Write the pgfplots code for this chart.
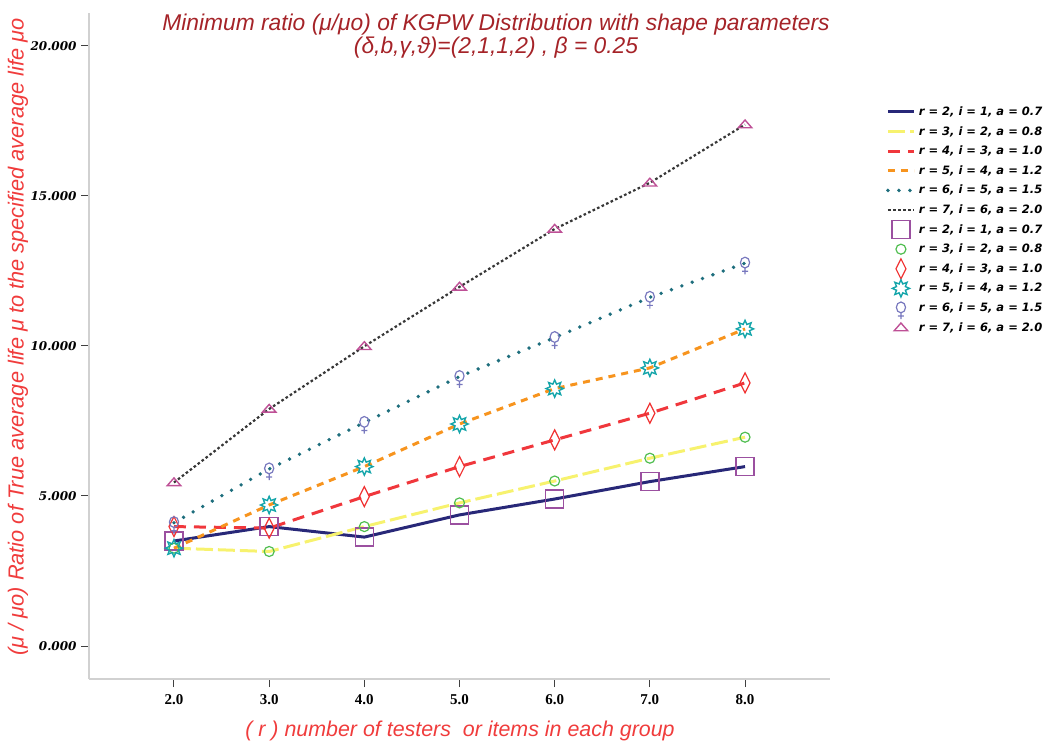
\documentclass[border=0pt]{standalone}
\usepackage{pgfplots}
\usepackage{pgfplotstable}
\pgfplotsset{compat=1.18}
\usepackage{fontspec}
\setmainfont{Liberation Sans}
\newfontfamily\sansf{Liberation Sans}
\newfontfamily\legf{DejaVu Sans}
\newfontfamily\tickx{Liberation Serif}
\newfontfamily\ticky{DejaVu Serif}

\definecolor{cnavy}{RGB}{40,40,120}
\definecolor{cyel}{RGB}{247,242,110}
\definecolor{cred}{RGB}{240,55,60}
\definecolor{corange}{RGB}{247,148,30}
\definecolor{cteal}{RGB}{30,110,125}
\definecolor{cblack}{RGB}{55,55,55}
\definecolor{msq}{RGB}{155,80,160}
\definecolor{mcirc}{RGB}{80,190,80}
\definecolor{mdia}{RGB}{240,50,50}
\definecolor{mstar}{RGB}{20,165,170}
\definecolor{mven}{RGB}{120,120,190}
\definecolor{mtri}{RGB}{190,80,150}
\definecolor{ctitle}{RGB}{165,35,40}
\definecolor{clabel}{RGB}{240,60,60}

\pgfdeclareplotmark{mysquare}{%
  \pgfpathrectangle{\pgfpoint{-4.5pt}{-4.5pt}}{\pgfpoint{9pt}{9pt}}\pgfusepathqstroke}
\pgfdeclareplotmark{mycirc}{%
  \pgfpathcircle{\pgfpoint{0pt}{0pt}}{2.5pt}\pgfusepathqstroke}
\pgfdeclareplotmark{mydia}{%
  \pgfpathmoveto{\pgfpoint{0pt}{5pt}}\pgfpathlineto{\pgfpoint{2.5pt}{0pt}}%
  \pgfpathlineto{\pgfpoint{0pt}{-5pt}}\pgfpathlineto{\pgfpoint{-2.5pt}{0pt}}%
  \pgfpathclose\pgfusepathqstroke}
\pgfdeclareplotmark{mytri}{%
  \pgfpathmoveto{\pgfpoint{-3.4pt}{-1.6pt}}\pgfpathlineto{\pgfpoint{3.4pt}{-1.6pt}}%
  \pgfpathlineto{\pgfpoint{0pt}{2.3pt}}\pgfpathclose\pgfusepathqstroke}
\pgfdeclareplotmark{myven}{%
  \pgfpathellipse{\pgfpoint{0pt}{0.3pt}}{\pgfpoint{2.3pt}{0pt}}{\pgfpoint{0pt}{2.7pt}}%
  \pgfpathmoveto{\pgfpoint{0pt}{-2.4pt}}\pgfpathlineto{\pgfpoint{0pt}{-5.6pt}}%
  \pgfpathmoveto{\pgfpoint{-1.5pt}{-4pt}}\pgfpathlineto{\pgfpoint{1.5pt}{-4pt}}%
  \pgfusepathqstroke}
\pgfdeclareplotmark{mystar}{%
  \pgfpathmoveto{\pgfpointpolar{90}{4.3pt}}%
  \pgfpathlineto{\pgfpointpolar{112.5}{2.4pt}}\pgfpathlineto{\pgfpointpolar{135}{4.3pt}}%
  \pgfpathlineto{\pgfpointpolar{157.5}{2.4pt}}\pgfpathlineto{\pgfpointpolar{180}{4.3pt}}%
  \pgfpathlineto{\pgfpointpolar{202.5}{2.4pt}}\pgfpathlineto{\pgfpointpolar{225}{4.3pt}}%
  \pgfpathlineto{\pgfpointpolar{247.5}{2.4pt}}\pgfpathlineto{\pgfpointpolar{270}{4.3pt}}%
  \pgfpathlineto{\pgfpointpolar{292.5}{2.4pt}}\pgfpathlineto{\pgfpointpolar{315}{4.3pt}}%
  \pgfpathlineto{\pgfpointpolar{337.5}{2.4pt}}\pgfpathlineto{\pgfpointpolar{0}{4.3pt}}%
  \pgfpathlineto{\pgfpointpolar{22.5}{2.4pt}}\pgfpathlineto{\pgfpointpolar{45}{4.3pt}}%
  \pgfpathlineto{\pgfpointpolar{67.5}{2.4pt}}\pgfpathclose\pgfusepathqstroke}

\pgfplotstableread{
x  s1   s2   s3   s4    s5    s6
2  3.50 3.26 3.98 3.26  4.11  5.45
3  3.98 3.15 3.93 4.70  5.90  7.90
4  3.63 3.98 4.98 5.98  7.45  9.99
5  4.37 4.77 5.98 7.40  8.98  11.97
6  4.90 5.50 6.87 8.58  10.28 13.90
7  5.48 6.26 7.76 9.27  11.62 15.44
8  5.98 6.96 8.77 10.57 12.76 17.38
}\data

\pgfplotsset{
  lineleg/.style={legend image code/.code={\draw[##1] (0pt,0pt) -- (13pt,0pt);
    \pgfpathrectangle{\pgfpoint{0pt}{-2.5pt}}{\pgfpoint{13pt}{5pt}}\pgfusepath{use as bounding box}}},
  markleg/.style={legend image code/.code={\draw[##1,overlay] plot coordinates {(6.5pt,0pt)};
    \pgfpathrectangle{\pgfpoint{0pt}{-2.5pt}}{\pgfpoint{13pt}{5pt}}\pgfusepath{use as bounding box}}},
}

\begin{document}
\begin{tikzpicture}
\useasboundingbox (0,0) rectangle (521.5pt,372pt);
\begin{axis}[
  at={(44.5pt,32.5pt)}, anchor=south west,
  scale only axis, width=370.5pt, height=333pt,
  xmin=1.107, xmax=8.893, ymin=-1.1, ymax=21.1,
  axis x line*=bottom, axis y line*=left,
  axis line style={draw=black!18, line width=0.75pt},
  tick style={draw=black!75, line width=0.5pt},
  tick align=outside, major tick length=4pt,
  xtick={2,3,4,5,6,7,8},
  xticklabels={2.0,3.0,4.0,5.0,6.0,7.0,8.0},
  ytick={0,5,10,15,20},
  yticklabels={0.000,5.000,10.000,15.000,20.000},
  x tick label style={font=\tickx\bfseries\fontsize{7.5}{8}\selectfont},
  y tick label style={font=\ticky\bfseries\itshape\fontsize{6}{7}\selectfont, xshift=1.3pt},
  legend style={draw=none, fill=none, inner sep=0pt, outer sep=0pt,
    at={(rel axis cs:1.0756,0.8596)}, anchor=north west,
    font=\legf\bfseries\itshape\fontsize{5.75}{6}\selectfont,
    nodes={inner sep=0pt, text height=4.5pt, text depth=1pt},
    row sep=4.3pt,
    /tikz/every odd column/.append style={column sep=1.5pt}},
  legend cell align=left,
]
\addplot[cnavy, line width=1.5pt, no markers, lineleg] table[x=x,y=s1]{\data};
\addlegendentry{r = 2, i = 1, a = 0.7}
\addplot[cyel, line width=1.5pt, dash pattern=on 8.5pt off 2.5pt, no markers, lineleg] table[x=x,y=s2]{\data};
\addlegendentry{r = 3, i = 2, a = 0.8}
\addplot[cred, line width=1.5pt, dash pattern=on 6pt off 4pt, no markers, lineleg] table[x=x,y=s3]{\data};
\addlegendentry{r = 4, i = 3, a = 1.0}
\addplot[corange, line width=1.5pt, dash pattern=on 3.5pt off 3pt, no markers, lineleg] table[x=x,y=s4]{\data};
\addlegendentry{r = 5, i = 4, a = 1.2}
\addplot[cteal, line width=1.9pt, line cap=round, dash pattern=on 0pt off 5.5pt, no markers, lineleg] table[x=x,y=s5]{\data};
\addlegendentry{r = 6, i = 5, a = 1.5}
\addplot[cblack, line width=1.1pt, dash pattern=on 1.3pt off 1.2pt, no markers, lineleg] table[x=x,y=s6]{\data};
\addlegendentry{r = 7, i = 6, a = 2.0}
\addplot[msq, only marks, mark=mysquare, line width=0.7pt, markleg] table[x=x,y=s1]{\data};
\addlegendentry{r = 2, i = 1, a = 0.7}
\addplot[mcirc, only marks, mark=mycirc, line width=0.6pt, markleg] table[x=x,y=s2]{\data};
\addlegendentry{r = 3, i = 2, a = 0.8}
\addplot[mdia, only marks, mark=mydia, line width=0.6pt, markleg] table[x=x,y=s3]{\data};
\addlegendentry{r = 4, i = 3, a = 1.0}
\addplot[mstar, only marks, mark=mystar, line width=0.7pt, markleg] table[x=x,y=s4]{\data};
\addlegendentry{r = 5, i = 4, a = 1.2}
\addplot[mven, only marks, mark=myven, line width=0.6pt, markleg] table[x=x,y=s5]{\data};
\addlegendentry{r = 6, i = 5, a = 1.5}
\addplot[mtri, only marks, mark=mytri, line width=0.7pt, markleg] table[x=x,y=s6]{\data};
\addlegendentry{r = 7, i = 6, a = 2.0}
\end{axis}
\node[font=\sansf\itshape\fontsize{11.4}{11.5}\selectfont, text=ctitle, align=center, anchor=center]
  at (248pt,354pt) {Minimum ratio (μ/μo) of KGPW Distribution with shape parameters\\(δ,b,γ,ϑ)=(2,1,1,2) , β = 0.25};
\node[font=\sansf\itshape\fontsize{10.9}{11}\selectfont, text=clabel, rotate=90, anchor=center]
  at (9pt,203.5pt) {(μ / μo) Ratio of True average life μ to the specified average life μo};
\node[font=\sansf\itshape\fontsize{10.7}{11}\selectfont, text=clabel, anchor=center]
  at (230pt,6.5pt) {( r )\ number of testers\ \ or items in each group};
\end{tikzpicture}
\end{document}
